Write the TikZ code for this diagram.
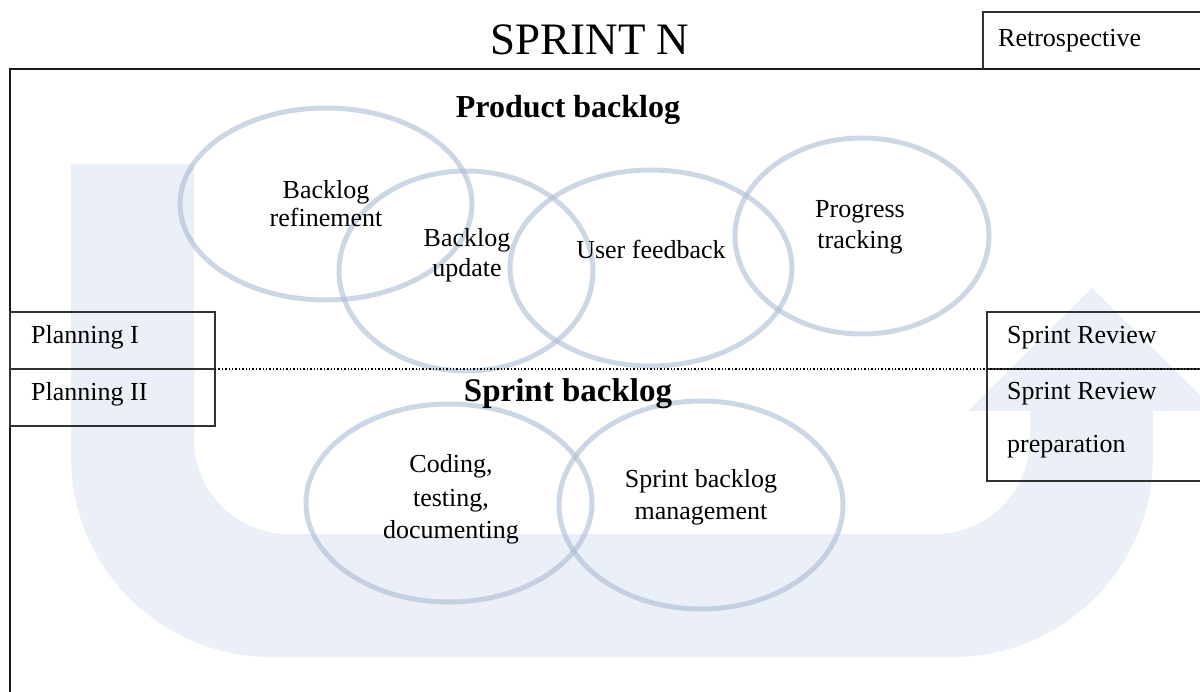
\documentclass[tikz,border=0pt]{standalone}
\usepackage{fontspec}
\setmainfont{Liberation Serif}
\definecolor{flowfill}{RGB}{235,240,248}
\definecolor{ringline}{RGB}{170,188,212}
\definecolor{boxline}{RGB}{50,50,50}
\begin{document}
\begin{tikzpicture}[x=1pt,y=-1pt,
  lbl/.style={font=\fontsize{26}{30}\selectfont, inner sep=0pt, anchor=base},
  sidelbl/.style={lbl, anchor=base west},
  headlbl/.style={font=\fontsize{32}{36}\selectfont\bfseries, inner sep=0pt, anchor=base},
  ring/.style={draw=ringline, line width=5pt, draw opacity=0.6},
  phasebox/.style={draw=boxline, line width=1.4pt},
  frameline/.style={draw=black!90, line width=2pt}]

\useasboundingbox (0,0) rectangle (1200,692);

% big U-turn arrow in the background
\fill[flowfill] (71,164) -- (194,164) -- (194,439)
  arc[start angle=180, end angle=270, radius=95pt] -- (935,534)
  arc[start angle=270, end angle=360, radius=95pt] -- (1030,411)
  -- (968,411) -- (1092,288) -- (1216,411) -- (1153,411) -- (1153,457)
  arc[start angle=0, end angle=-90, radius=200pt] -- (271,657)
  arc[start angle=270, end angle=180, radius=200pt] -- cycle;

% activity rings
\draw[ring] (326,204) ellipse [x radius=146pt, y radius=96pt];
\draw[ring] (466,271) ellipse [x radius=127pt, y radius=100pt];
\draw[ring] (651,268) ellipse [x radius=141pt, y radius=98pt];
\draw[ring] (862,236) ellipse [x radius=127pt, y radius=98pt];
\draw[ring] (449,503) ellipse [x radius=143pt, y radius=99pt];
\draw[ring] (701,505) ellipse [x radius=142pt, y radius=104pt];

% sprint frame
\draw[frameline] (10,700) -- (10,69) -- (1210,69);

% retrospective box
\draw[phasebox] (983,69) -- (983,12) -- (1210,12);

% planning boxes
\draw[phasebox] (10,312) rectangle (215,426);
\draw[phasebox] (10,369) -- (215,369);

% sprint review boxes
\draw[phasebox] (1210,312) -- (987,312) -- (987,481) -- (1210,481);
\draw[phasebox] (987,369) -- (1210,369);

% boundary between the two backlogs
\draw[line width=1.4pt, dotted] (215,369) -- (1200,369);

% titles
\node[font=\fontsize{45}{50}\selectfont, inner sep=0pt, anchor=base] (title) at (590,55) {SPRINT N};
\node[sidelbl] (retro) at (998,47) {Retrospective};
\node[headlbl] (pb) at (568,118) {Product backlog};
\node[headlbl, font=\fontsize{33}{36}\selectfont\bfseries] (sb) at (568,402) {Sprint backlog};

% side phases
\node[sidelbl] (plan1) at (31,344) {Planning I};
\node[sidelbl] (plan2) at (31,401) {Planning II};
\node[sidelbl] (rev1) at (1007,344) {Sprint Review};
\node[sidelbl] (rev2) at (1007,400) {Sprint Review};
\node[sidelbl] (rev3) at (1007,453) {preparation};

% ring labels
\node[lbl] (refa) at (326,199) {Backlog};
\node[lbl] (refb) at (326,227) {refinement};
\node[lbl] (upda) at (467,247) {Backlog};
\node[lbl] (updb) at (467,277) {update};
\node[lbl] (feed) at (651,259) {User feedback};
\node[lbl] (proga) at (860,218) {Progress};
\node[lbl] (progb) at (860,249) {tracking};
\node[lbl] (coda) at (451,473) {Coding,};
\node[lbl] (codb) at (451,506) {testing,};
\node[lbl] (codc) at (451,538) {documenting};
\node[lbl] (mgta) at (701,487) {Sprint backlog};
\node[lbl] (mgtb) at (701,519) {management};
\end{tikzpicture}
\end{document}
